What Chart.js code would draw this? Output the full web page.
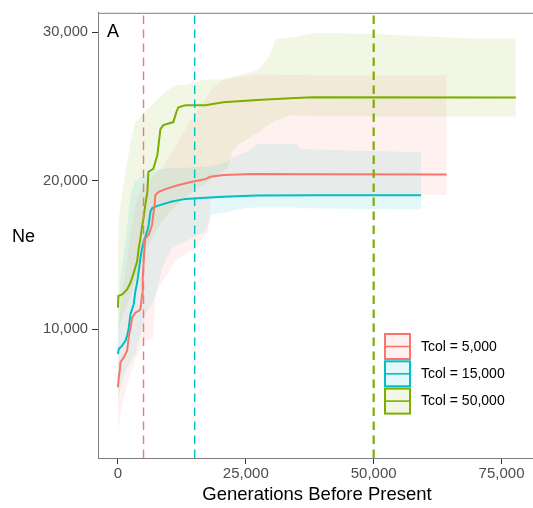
<!DOCTYPE html>
<html><head><meta charset="utf-8">
<script src="https://cdn.jsdelivr.net/npm/chart.js@4.4.1/dist/chart.umd.min.js"></script>
<style>html,body{margin:0;padding:0;background:#fff;}#wrap{width:533px;height:508px;}</style>
</head><body><div id="wrap"><canvas id="c" width="533" height="508"></canvas></div>
<script>
// ---- data ----
const seriesLabels = ['Tcol = 5,000', 'Tcol = 15,000', 'Tcol = 50,000'];
const seriesColors = ['#F8766D', '#00BFC4', '#7CAE00'];
const ribbonColors = ['rgba(248,118,109,0.1)', 'rgba(0,191,196,0.1)', 'rgba(124,174,0,0.1)'];
const tcolValues = [5000, 15000, 50000];
const xTicks = [0, 25000, 50000, 75000];
const yTicks = [10000, 20000, 30000];
const panelLabel = 'A';
const xTitle = 'Generations Before Present';
const yTitle = 'Ne';

// Tcol = 5,000 median line
const redX = [0, 159, 395, 493, 1131, 1798, 2112, 2455, 2769, 3416, 4064, 4397, 4721, 4839, 5035, 5231, 5369, 6016, 6673, 6987, 7164, 7321, 7968, 9273, 11873, 14482, 17082, 18053, 20653, 26490, 38752, 64258];
const redY = [6100, 6780, 7340, 7780, 8110, 8560, 9500, 10100, 10790, 11120, 11240, 11350, 12350, 13460, 14580, 15700, 16140, 16370, 17040, 17930, 18370, 19040, 19260, 19440, 19710, 19930, 20110, 20270, 20380, 20450, 20430, 20420];
// Tcol = 5,000 ribbon
const redRibX = [0, 159, 493, 1474, 2063, 2455, 3436, 4417, 5398, 6928, 7321, 8684, 9322, 11225, 13177, 15130, 16493, 17661, 18151, 19132, 20604, 24037, 27471, 38752, 64258];
const redLo = [2700, 3500, 4300, 5800, 6550, 7000, 8000, 8700, 9230, 9430, 12370, 13240, 13500, 14580, 15050, 15450, 16120, 16590, 18800, 18900, 18950, 19000, 19020, 19040, 19040];
const redHi = [8500, 10000, 11500, 14000, 15500, 16500, 18500, 19300, 19800, 20300, 20500, 20800, 21300, 22300, 23470, 24600, 25200, 25800, 26100, 26420, 26820, 27000, 27150, 27110, 27110];

// Tcol = 15,000 median line
const cyanX = [0, 159, 817, 1464, 1798, 2112, 2445, 3083, 3416, 3750, 4064, 4397, 4721, 5035, 5369, 5702, 6016, 6350, 6673, 7321, 8626, 10578, 13177, 17082, 20653, 27176, 38752, 59255];
const cyanY = [8340, 8680, 8900, 9230, 9570, 10100, 11020, 11690, 12580, 13130, 13910, 14800, 15470, 15920, 16250, 16590, 17040, 17930, 18150, 18260, 18410, 18600, 18780, 18860, 18930, 19000, 19020, 19020];
// Tcol = 15,000 ribbon
const cyanRibX = [0, 159, 493, 1474, 2455, 3416, 4417, 5369, 7321, 8626, 10578, 13825, 17082, 18386, 19426, 21388, 21634, 23350, 24891, 25901, 27274, 34828, 35809, 48562, 59255];
const cyanLo = [4800, 5440, 6000, 7200, 7800, 8340, 9600, 11020, 12130, 14130, 15470, 16030, 16590, 17700, 17800, 17900, 17930, 18050, 18150, 18180, 18200, 18200, 18150, 18100, 18080];
const cyanHi = [10000, 12000, 13500, 16000, 19000, 20000, 20200, 20400, 20700, 20800, 20860, 20900, 20950, 21000, 21100, 21300, 21400, 21700, 21900, 22100, 22480, 22480, 22130, 22000, 21940];

// Tcol = 50,000 median line
const greenX = [0, 80, 817, 1798, 2445, 3083, 3750, 4064, 4397, 4721, 5035, 5398, 5761, 5957, 6928, 7713, 8302, 8881, 10833, 11421, 11814, 13177, 17072, 20604, 27235, 33651, 38163, 77796];
const greenY = [11460, 12240, 12350, 12690, 13130, 13800, 14580, 15470, 16140, 16920, 17590, 18500, 19260, 20600, 20800, 21740, 23480, 23750, 23950, 24620, 24950, 25080, 25080, 25280, 25440, 25550, 25620, 25600];
// Tcol = 50,000 ribbon
const greenRibX = [0, 159, 984, 1964, 2455, 3436, 4417, 5398, 7713, 9322, 11225, 13766, 17072, 19426, 20407, 21388, 22566, 23527, 25901, 27431, 29187, 30315, 30747, 33651, 34828, 38752, 51309, 58372, 68869, 77796];
const greenLo = [9500, 10000, 11000, 11800, 12300, 13300, 14300, 15300, 16800, 17600, 18300, 19000, 19800, 20400, 20600, 20800, 22140, 22400, 22940, 23250, 23700, 23950, 24050, 24400, 24400, 24350, 24330, 24330, 24330, 24330];
const greenHi = [15000, 17500, 19500, 21500, 22610, 23950, 24300, 24700, 25480, 26000, 26420, 26490, 26820, 26820, 26820, 26900, 27000, 27090, 27300, 27490, 28160, 29000, 29500, 29640, 29700, 29970, 29860, 29750, 29570, 29570];

// ---- build ----
const X_MIN = -3900, X_MAX = 81150, Y_MIN = 1338, Y_MAX = 31304;
const FONT = '"Liberation Sans", Arial, Helvetica, sans-serif';
const zip = (xs, ys) => xs.map((x, i) => ({x: x, y: ys[i]}));
const fmt = v => String(v).replace(/\B(?=(\d{3})+(?!\d))/g, ',');

const lines = [[redX, redY], [cyanX, cyanY], [greenX, greenY]];
const ribbons = [[redRibX, redLo, redHi], [cyanRibX, cyanLo, cyanHi], [greenRibX, greenLo, greenHi]];

const datasets = [];
// vlines (on top)
tcolValues.forEach((t, i) => {
  datasets.push({
    data: [{x: t, y: Y_MIN}, {x: t, y: Y_MAX}],
    borderColor: seriesColors[i], borderWidth: i === 2 ? 2.2 : 1.4,
    borderDash: [8.5, 5.5], pointRadius: 0, fill: false, showLine: true
  });
});
// median lines
lines.forEach((l, i) => {
  datasets.push({
    data: zip(l[0], l[1]), borderColor: seriesColors[i], borderWidth: 2,
    pointRadius: 0, fill: false, showLine: true, tension: 0
  });
});
// ribbons (underneath)
ribbons.forEach((r, i) => {
  datasets.push({
    data: zip(r[0], r[2]), borderColor: 'rgba(0,0,0,0)', borderWidth: 0,
    backgroundColor: ribbonColors[i], pointRadius: 0, fill: '+1', showLine: true, tension: 0
  });
  datasets.push({
    data: zip(r[0], r[1]), borderColor: 'rgba(0,0,0,0)', borderWidth: 0,
    pointRadius: 0, fill: false, showLine: true, tension: 0
  });
});

const decor = {
  id: 'decor',
  afterDraw(chart) {
    const ctx = chart.ctx, a = chart.chartArea;
    ctx.save();
    // top border
    ctx.strokeStyle = '#7f7f7f'; ctx.lineWidth = 1;
    ctx.beginPath(); ctx.moveTo(a.left, a.top + 0.5); ctx.lineTo(a.right, a.top + 0.5); ctx.stroke();
    // panel label
    ctx.fillStyle = '#000'; ctx.font = '18px ' + FONT;
    ctx.textAlign = 'left'; ctx.textBaseline = 'alphabetic';
    ctx.fillText(panelLabel, 107, 37);
    // y title
    ctx.textBaseline = 'middle';
    ctx.fillText(yTitle, 12, 237);
    // x title (panel extends slightly past the canvas edge)
    ctx.textAlign = 'center'; ctx.font = '18.5px ' + FONT;
    ctx.fillText(xTitle, 317, 495);
    // legend
    const kx = 385, ky = [334, 361.3, 388.6], ks = 25;
    seriesLabels.forEach((lab, i) => {
      ctx.fillStyle = '#fff'; ctx.fillRect(kx, ky[i], ks, ks);
      ctx.fillStyle = ribbonColors[i]; ctx.fillRect(kx, ky[i], ks, ks);
      ctx.strokeStyle = seriesColors[i]; ctx.lineWidth = 2;
      ctx.strokeRect(kx, ky[i], ks, ks);
      ctx.lineWidth = 1.6;
      ctx.beginPath(); ctx.moveTo(kx + 1, ky[i] + ks / 2); ctx.lineTo(kx + ks - 1, ky[i] + ks / 2); ctx.stroke();
      ctx.fillStyle = '#000'; ctx.font = '14px ' + FONT;
      ctx.textAlign = 'left'; ctx.textBaseline = 'middle';
      ctx.fillText(lab, 421, ky[i] + ks / 2 + 0.5);
    });
    ctx.restore();
  }
};

new Chart(document.getElementById('c'), {
  type: 'scatter',
  data: {datasets: datasets},
  options: {
    responsive: false, animation: false, devicePixelRatio: 1,
    layout: {padding: {top: 10, right: 0, left: 0, bottom: 0}},
    plugins: {legend: {display: false}, tooltip: {enabled: false}},
    elements: {point: {radius: 0}, line: {tension: 0}},
    scales: {
      x: {
        type: 'linear', min: X_MIN, max: X_MAX,
        afterBuildTicks: s => { s.ticks = xTicks.map(v => ({value: v})); },
        afterFit: s => { s.height = 50; },
        ticks: {callback: v => fmt(v), color: '#4d4d4d', font: {family: FONT, size: 15}, padding: 1, maxRotation: 0, autoSkip: false},
        grid: {drawOnChartArea: false, drawTicks: true, tickLength: 6, tickColor: '#333', tickWidth: 1},
        border: {display: true, color: '#7f7f7f', width: 1},
        title: {display: false}
      },
      y: {
        type: 'linear', min: Y_MIN, max: Y_MAX,
        afterBuildTicks: s => { s.ticks = yTicks.map(v => ({value: v})); },
        afterFit: s => { s.width = 98; },
        ticks: {callback: v => fmt(v), color: '#4d4d4d', font: {family: FONT, size: 14.7}, padding: 4},
        grid: {drawOnChartArea: false, drawTicks: true, tickLength: 6, tickColor: '#333', tickWidth: 1},
        border: {display: true, color: '#7f7f7f', width: 1},
        title: {display: false}
      }
    }
  },
  plugins: [decor]
});
</script></body></html>
